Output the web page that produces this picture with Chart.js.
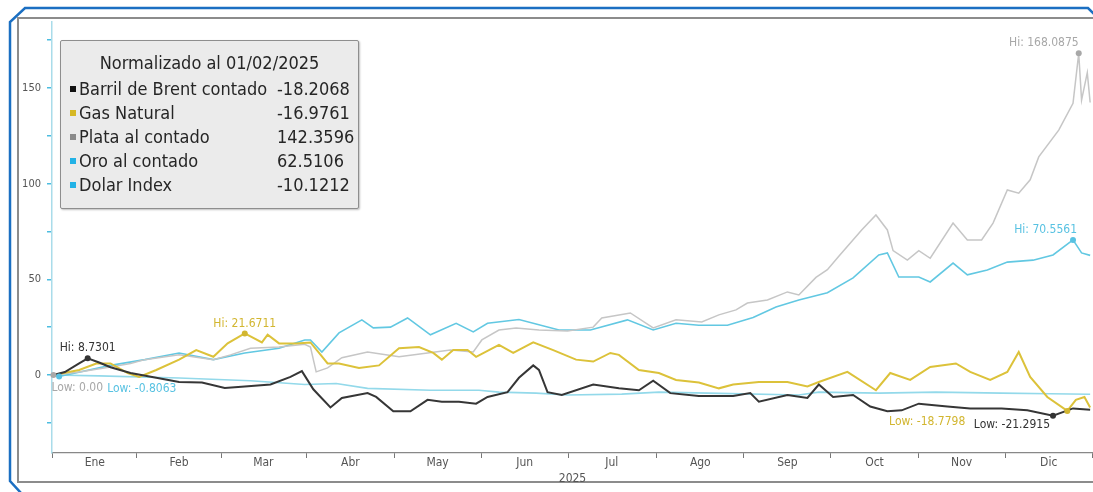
<!DOCTYPE html>
<html>
<head>
<meta charset="utf-8">
<script src="https://cdn.jsdelivr.net/npm/chart.js@4.4.1/dist/chart.umd.min.js"></script>
<style>
body { margin:0; background:#fff; }
#wrap { position:relative; width:1093px; height:492px; overflow:hidden; }
#legendBox {
	position:absolute; left:60px; top:40px; width:297px; height:167px;
	background:#ebebeb; border:1px solid #8e8e8e; border-radius:2px;
	box-shadow:1px 1px 2px rgba(0,0,0,0.25);
	font-family:"DejaVu Sans Condensed","Liberation Sans Narrow",sans-serif;
	font-size:18px; color:#262626;
}
#legendBox .ttl { position:absolute; left:0; width:100%; top:11px; text-align:center; }
#legendBox .row { position:absolute; left:0; width:100%; height:24px; line-height:24px; }
#legendBox .sq { position:absolute; left:9px; top:9px; width:6px; height:6px; }
#legendBox .nm { position:absolute; left:18px; }
#legendBox .vl { position:absolute; left:216px; }
</style>
</head>
<body>
<div id="wrap"><canvas id="chart"></canvas><div id="legendBox"></div></div>
<script>
// months (day-of-year where each month starts)
var monthLabels = ['Ene','Feb','Mar','Abr','May','Jun','Jul','Ago','Sep','Oct','Nov','Dic'];
var monthStarts = [0,31,59,90,120,151,181,212,243,273,304,334,365];

var seriesNames = ['Barril de Brent contado','Gas Natural','Plata al contado','Oro al contado','Dolar Index'];
var lastValues = ['-18.2068','-16.9761','142.3596','62.5106','-10.1212'];
var legendColors = ['#111111','#d6b824','#8a8a8a','#22b2e6','#22b2e6'];
var lineColors = ['#363636','#dcc23a','#c6c6c6','#62c8e2','#93d9ea'];

// Barril de Brent
var brentDays = [1,5,10,13,17,21,28,37,45,53,61,68,77,84,88,92,98,102,111,114,120,126,132,137,143,149,153,160,164,169,171,174,179,190,199,206,211,217,227,239,245,248,258,265,269,274,281,287,293,298,304,314,322,333,342,351,358,364];
var brentVals = [0,1.5,6,8.7,6.5,4,1,-1.5,-3.7,-4,-6.8,-6,-5,-1,2,-7.5,-17,-12,-9.5,-11.5,-19,-19,-13,-14,-14,-15,-11.5,-9,-1.5,5,2.6,-9,-10.5,-5,-7,-8,-3,-9.5,-11,-11,-9.5,-14,-10.5,-12,-5,-11.5,-10.5,-16.5,-19,-18.5,-15,-16.5,-17.5,-17.5,-18.5,-21.3,-17.5,-18.2];

// Gas Natural
var gasDays = [1,10,16,21,27,31,37,45,51,57,62,68,74,76,80,86,91,94,97,101,108,115,122,129,134,137,141,146,149,157,162,169,176,184,190,196,199,206,213,219,227,234,239,248,258,265,269,279,289,294,301,308,317,322,329,335,339,343,349,356,359,362,364];
var gasVals = [0,2.6,6,6,1,-1,2.6,8,13,9.5,16.5,21.7,17,21,16.5,16.5,17,11.5,6,6,3.7,5,14,14.6,11.5,8,13,13,9.5,15.7,11.5,17,13,8,7,11.5,10.5,2.6,1,-2.6,-4,-7,-5,-3.7,-3.7,-6,-3.7,1.6,-8,1,-2.6,4.2,6,1.6,-2.6,1.6,12,-1,-11.5,-18.8,-13,-11.5,-17];

// Plata al contado
var silverDays = [1,10,21,28,33,45,57,63,70,80,89,91,93,97,102,111,122,132,140,148,151,157,163,171,181,190,193,203,211,219,228,234,240,244,251,258,262,268,272,276,284,289,293,295,300,304,308,316,321,326,330,335,339,343,346,353,358,360,361,363,364];
var silverVals = [0,1.6,4.2,6,8,10.5,8,10.5,14,14.6,16,14.6,1.6,3.7,9,12,9.5,11.5,13,12,18.3,23.5,24.5,23.5,23,25,29.8,32.4,24.6,28.8,27.7,31.4,34,37.6,39.2,43.4,41.8,51,55,62,75.8,83.6,75.8,65,60,65,61,79.4,70.6,70.6,79.4,96.7,95,102,114,128,142,168.1,143.7,158,142.4];

// Oro al contado
var goldDays = [1,3,21,33,45,57,68,80,89,91,95,101,109,113,119,125,133,142,148,153,164,178,189,202,211,219,227,237,246,254,262,272,281,290,293,297,304,308,316,321,328,335,344,351,358,361,364];
var goldVals = [0,-0.8,5,8,11.5,8,11.5,14,18.3,18.3,12,22,28.8,24.6,25,29.8,21,27,22.5,27,29,23.5,23.5,28.8,23.5,27,26,26,30,35.5,39.2,43,50.7,62.7,63.8,51.2,51.2,48.6,58.5,52.3,54.9,59,60,62.7,70.6,63.8,62.5];

// Dolar Index
var dollarDays = [1,17,45,70,89,100,111,133,150,157,170,181,200,213,230,262,269,290,310,333,350,364];
var dollarVals = [0,-0.5,-1.6,-3,-5,-4.5,-7,-8,-8,-9,-9.5,-10.5,-10,-9,-9.5,-10.5,-9,-9.5,-9,-9.5,-9.8,-10.1];

var allDays = [brentDays, gasDays, silverDays, goldDays, dollarDays];
var allVals = [brentVals, gasVals, silverVals, goldVals, dollarVals];
var lineWidths = [2, 2, 1.5, 1.6, 1.6];

// Hi / Low labels: dataset, point index, text
var marks = [
	{ds:0, i:3, text:'Hi: 8.7301', color:'#333333', align:'center', dx:0, dy:-10},
	{ds:1, i:11, text:'Hi: 21.6711', color:'#d2b630', align:'center', dx:0, dy:-10},
	{ds:2, i:57, text:'Hi: 168.0875', color:'#a8a8a8', align:'right', dx:0, dy:-10},
	{ds:3, i:44, text:'Hi: 70.5561', color:'#58c2e2', align:'right', dx:4, dy:-10},
	{ds:2, i:0, text:'Low: 0.00', color:'#a8a8a8', align:'left', dx:-2, dy:13},
	{ds:3, i:1, text:'Low: -0.8063', color:'#58c2e2', align:'left', dx:48, dy:12},
	{ds:1, i:59, text:'Low: -18.7798', color:'#d2b630', align:'right', dx:-102, dy:11},
	{ds:0, i:55, text:'Low: -21.2915', color:'#333333', align:'right', dx:-3, dy:9}
];

var FONT = '"DejaVu Sans Condensed","Liberation Sans Narrow",sans-serif';

// legend box
var box = document.getElementById('legendBox');
var html = '<div class="ttl">Normalizado al 01/02/2025</div>';
for (var k = 0; k < seriesNames.length; k++) {
	html += '<div class="row" style="top:' + (36 + k*24) + 'px">' +
		'<span class="sq" style="background:' + legendColors[k] + '"></span>' +
		'<span class="nm">' + seriesNames[k] + '</span>' +
		'<span class="vl">' + lastValues[k] + '</span></div>';
}
box.innerHTML = html;

var frame = {
	id: 'frame',
	beforeDraw: function(chart) {
		var c = chart.ctx;
		c.save();
		c.fillStyle = '#fff';
		c.fillRect(0, 0, chart.width, chart.height);
		c.strokeStyle = '#1b6fc2';
		c.lineWidth = 2.5;
		c.beginPath();
		c.moveTo(1095, 15); c.lineTo(1088, 8); c.lineTo(25, 8); c.lineTo(10, 22);
		c.lineTo(10, 481); c.lineTo(21, 493);
		c.stroke();
		c.strokeStyle = '#8c8c8c';
		c.lineWidth = 2;
		c.beginPath();
		c.moveTo(1095, 18); c.lineTo(18, 18); c.lineTo(18, 482); c.lineTo(1095, 482);
		c.stroke();
		c.restore();
	}
};

var hiLow = {
	id: 'hiLow',
	afterDatasetsDraw: function(chart) {
		var c = chart.ctx;
		var xs = chart.scales.x, ys = chart.scales.y;
		c.save();
		c.font = '12px ' + FONT;
		c.textBaseline = 'middle';
		marks.forEach(function(m) {
			var px = xs.getPixelForValue(allDays[m.ds][m.i]);
			var py = ys.getPixelForValue(allVals[m.ds][m.i]);
			c.fillStyle = m.color;
			c.beginPath();
			c.arc(px, py, 3, 0, Math.PI*2);
			c.fill();
			c.textAlign = m.align;
			c.fillText(m.text, px + m.dx, py + m.dy);
		});
		c.restore();
	}
};

var datasets = [];
for (var d = 0; d < seriesNames.length; d++) {
	var pts = [];
	for (var j = 0; j < allDays[d].length; j++) {
		pts.push({x: allDays[d][j], y: allVals[d][j]});
	}
	datasets.push({
		label: seriesNames[d],
		data: pts,
		borderColor: lineColors[d],
		borderWidth: lineWidths[d],
		pointRadius: 0,
		tension: 0,
		fill: false
	});
}

new Chart(document.getElementById('chart'), {
	type: 'line',
	data: { datasets: datasets },
	plugins: [frame, hiLow],
	options: {
		responsive: true,
		maintainAspectRatio: false,
		animation: false,
		layout: { padding: { top: 22, left: 0, right: 0, bottom: 0 } },
		plugins: { legend: { display: false }, tooltip: { enabled: false } },
		scales: {
			x: {
				type: 'linear',
				min: 0.5,
				max: 365,
				afterBuildTicks: function(scale) {
					var t = [];
					for (var m = 0; m < 12; m++) {
						t.push({ value: (monthStarts[m] + monthStarts[m+1]) / 2 });
					}
					scale.ticks = t;
				},
				afterFit: function(scale) { scale.height = 39; },
				ticks: {
					autoSkip: false,
					maxRotation: 0,
					padding: -2,
					color: '#555',
					font: { family: FONT, size: 12 },
					callback: function(v, i) { return monthLabels[i]; }
				},
				grid: { offset: true, drawOnChartArea: false, tickLength: 5, color: '#777', lineWidth: 1 },
				border: { color: '#888', width: 1.2 },
				title: { display: true, text: '2025', color: '#555', font: { family: FONT, size: 12 }, padding: { top: 0, bottom: 6 } }
			},
			y: {
				min: -40.8,
				max: 184.5,
				afterBuildTicks: function(scale) {
					var t = [];
					for (var v = -25; v <= 175; v += 25) t.push({ value: v });
					scale.ticks = t;
				},
				afterFit: function(scale) { scale.width = 52; },
				ticks: {
					padding: 6,
					color: '#555',
					font: { family: FONT, size: 11 },
					callback: function(v) { return v % 50 === 0 && v >= 0 ? v : ''; }
				},
				grid: { drawOnChartArea: false, tickLength: 5, color: '#4cbde0', lineWidth: 1.5 },
				border: { color: '#a9dcea', width: 1.5 }
			}
		}
	}
});
</script>
</body>
</html>
